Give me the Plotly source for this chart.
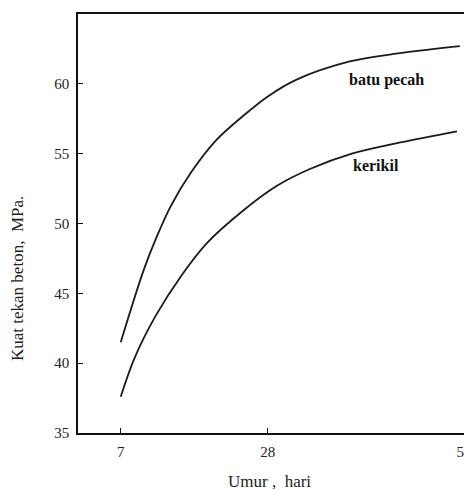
import plotly.graph_objects as go

umur_batu = [7, 10.3, 12.1, 14.2, 17.1, 20.7, 24.7, 28.0, 32.1, 39.7, 46.9, 55.4]
kuat_batu = [41.5, 46.7, 49.0, 51.3, 53.7, 56.0, 57.8, 59.1, 60.3, 61.6, 62.2, 62.7]

umur_kerikil = [7, 9.0, 12.0, 15.7, 19.3, 24.4, 29.3, 34.0, 40.0, 46.9, 55.0]
kuat_kerikil = [37.6, 40.4, 43.4, 46.3, 48.6, 50.9, 52.7, 53.9, 55.0, 55.8, 56.6]

x_ticks = [7, 28, 56]
y_ticks = [35, 40, 45, 50, 55, 60, 65]

font_serif = "Liberation Serif, Times New Roman, serif"

# page has an 8px body margin: target pixel positions are in window coords
OFF = 8
W, H = 472 - OFF, 490 - OFF
L, R, T, B = 78, 464, 14, 433  # plot area in window coords

fig = go.Figure()
for xs, ys in [(umur_batu, kuat_batu), (umur_kerikil, kuat_kerikil)]:
    fig.add_trace(go.Scatter(x=xs, y=ys, mode="lines",
                             line=dict(color="#1a1a1a", width=1.8, shape="spline", smoothing=1.0),
                             showlegend=False, hoverinfo="skip"))


def px_to_paper(px, py):
    return (px - L) / (R - L), (B - py) / (B - T)


for text, (px, py) in [("<b>batu pecah</b>", (386, 80)), ("<b>kerikil</b>", (376, 165))]:
    ax, ay = px_to_paper(px, py)
    fig.add_annotation(x=ax, y=ay, xref="paper", yref="paper", text=text,
                       xanchor="center", yanchor="middle", showarrow=False,
                       font=dict(family=font_serif, size=16, color="#111"))

ax, ay = px_to_paper(18, 279)
fig.add_annotation(x=ax, y=ay, xref="paper", yref="paper",
                   text="Kuat tekan beton,  MPa.", textangle=-90, showarrow=False,
                   xanchor="center", yanchor="middle",
                   font=dict(family=font_serif, size=17, color="#222"))

ax, ay = px_to_paper(269, 481)
fig.add_annotation(x=ax, y=ay, xref="paper", yref="paper",
                   text="Umur ,  hari", showarrow=False,
                   xanchor="center", yanchor="middle",
                   font=dict(family=font_serif, size=17, color="#222"))

fig.update_layout(
    width=W, height=H,
    margin=dict(l=L - OFF, r=W - (R - OFF), t=T - OFF, b=H - (B - OFF), autoexpand=False),
    paper_bgcolor="white", plot_bgcolor="white",
    font=dict(family=font_serif, size=15, color="#222"),
    xaxis=dict(range=[0.9, 56], tickvals=x_ticks, ticktext=[str(v) for v in x_ticks],
               showgrid=False, zeroline=False, showline=True, mirror=True,
               linecolor="#111", linewidth=1.5, ticks="inside", ticklen=5,
               tickcolor="#111", tickfont=dict(family=font_serif, size=15, color="#222"),
               ticklabelstandoff=4, automargin=False),
    yaxis=dict(range=[35, 65], tickvals=y_ticks,
               showgrid=False, zeroline=False, showline=True, mirror=True,
               linecolor="#111", linewidth=1.5, ticks="inside", ticklen=5,
               tickcolor="#111", tickfont=dict(family=font_serif, size=15, color="#222"),
               ticklabelstandoff=4, automargin=False),
)

fig.write_html("out.html")
